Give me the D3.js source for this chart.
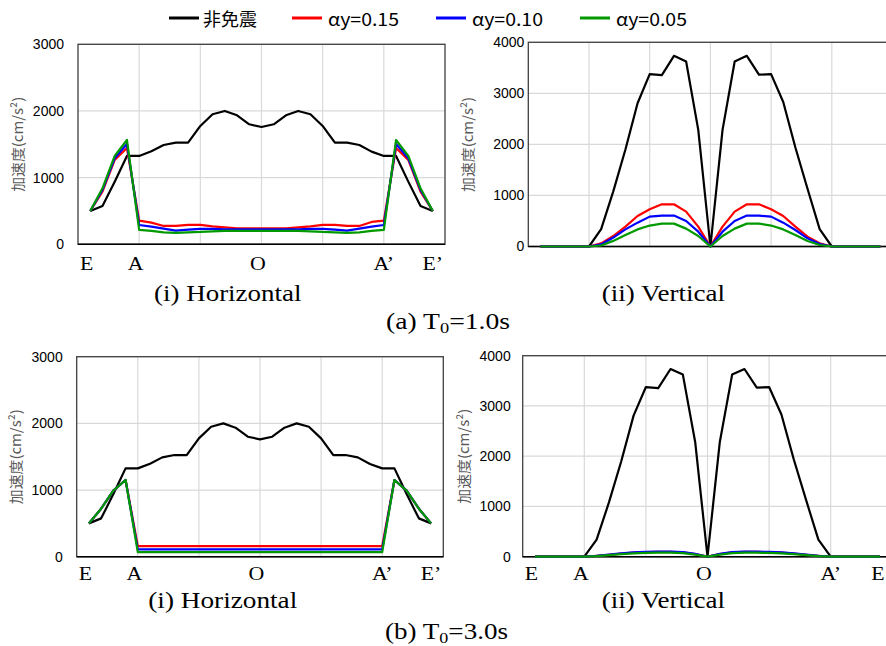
<!DOCTYPE html>
<html>
<head>
<meta charset="utf-8">
<script src="https://cdn.jsdelivr.net/npm/d3@7/dist/d3.min.js"></script>
<style>
  body { margin: 0; background: #fff; }
  svg { display: block; }
</style>
</head>
<body>
<div id="chart"></div>
<script>
// sampling points along the section E ... A ... O ... A' ... E'
const pointIdx = d3.range(1, 30);
const xTickIdx = [1, 5, 15, 25, 29];
const xTickLabels = ["E", "A", "O", "A’", "E’"];
const xTickLabelsCut = ["E", "A", "O", "A’", "E"];
const seriesNames = ["非免震", "αy=0.15", "αy=0.10", "αy=0.05"];
const seriesColors = ["#000000", "#ff0000", "#0000ff", "#009a00"];

// horizontal response (non-isolated is the same for both T0)
const hBlack = [500, 575, 940, 1325, 1325, 1395, 1490, 1525, 1525, 1775, 1950, 2000, 1935, 1800, 1760,
                1800, 1935, 2000, 1950, 1775, 1525, 1525, 1490, 1390, 1325, 1325, 940, 575, 500];
const hA15 = [500, 790, 1265, 1445, 355, 325, 275, 275, 290, 290, 270, 255, 240, 240, 240,
              240, 240, 255, 270, 290, 290, 275, 275, 335, 355, 1445, 1265, 790, 500];
const hA10 = [500, 815, 1290, 1505, 290, 265, 235, 205, 220, 230, 230, 225, 225, 225, 225,
              225, 225, 225, 230, 230, 220, 205, 235, 265, 290, 1505, 1290, 815, 500];
const hA05 = [500, 840, 1325, 1565, 215, 200, 180, 170, 180, 185, 195, 200, 200, 200, 200,
              200, 200, 200, 195, 185, 180, 170, 180, 200, 215, 1565, 1325, 840, 500];
const hB15 = [500, 720, 990, 1150, 160, 160, 160, 160, 160, 160, 160, 160, 160, 160, 160,
              160, 160, 160, 160, 160, 160, 160, 160, 160, 160, 1150, 990, 720, 500];
const hB10 = [500, 720, 990, 1150, 110, 110, 110, 110, 110, 110, 110, 110, 110, 110, 110,
              110, 110, 110, 110, 110, 110, 110, 110, 110, 110, 1150, 990, 720, 500];
const hB05 = [500, 720, 990, 1150, 70, 70, 70, 70, 70, 70, 70, 70, 70, 70, 70,
              70, 70, 70, 70, 70, 70, 70, 70, 70, 70, 1150, 990, 720, 500];

// vertical response
const vBlack = [0, 0, 0, 0, 0, 340, 1080, 1900, 2807, 3376, 3356, 3735, 3624, 2284, 0,
                2284, 3624, 3735, 3365, 3376, 2830, 1940, 1130, 340, 0, 0, 0, 0, 0];
const vA15 = [0, 0, 0, 0, 0, 60, 205, 390, 598, 729, 827, 827, 683, 389, 0,
              389, 683, 827, 827, 729, 598, 389, 193, 62, 0, 0, 0, 0, 0];
const vA10 = [0, 0, 0, 0, 0, 40, 175, 335, 467, 585, 605, 605, 500, 290, 0,
              290, 500, 605, 605, 585, 467, 323, 160, 49, 0, 0, 0, 0, 0];
const vA05 = [0, 0, 0, 0, 0, 20, 110, 225, 335, 410, 448, 448, 350, 205, 0,
              205, 350, 448, 448, 410, 335, 225, 108, 30, 0, 0, 0, 0, 0];
const vB15 = [0, 0, 0, 0, 0, 15, 35, 60, 80, 90, 95, 95, 85, 50, 0,
              50, 85, 95, 95, 90, 80, 60, 35, 15, 0, 0, 0, 0, 0];
const vB10 = [0, 0, 0, 0, 0, 15, 40, 65, 85, 95, 100, 100, 90, 55, 0,
              55, 90, 100, 100, 95, 85, 65, 40, 15, 0, 0, 0, 0, 0];
const vB05 = [0, 0, 0, 0, 0, 10, 30, 50, 65, 75, 80, 80, 70, 40, 0,
              40, 70, 80, 80, 75, 65, 50, 30, 10, 0, 0, 0, 0, 0];

const hTicks = [0, 1000, 2000, 3000];
const vTicks = [0, 1000, 2000, 3000, 4000];

const serif = "'Liberation Serif', 'Times New Roman', serif";
const sans = "'Liberation Sans', Arial, sans-serif";
const cjk = "'Noto Sans CJK JP', sans-serif";

const width = 886, height = 646;
const svg = d3.select("#chart").append("svg")
  .attr("width", width).attr("height", height);

const panels = [
  { box: [78, 445, 44.3, 244.3], ticks: hTicks, series: [hBlack, hA15, hA10, hA05],
    tickGap: 14, yTitleX: 17, labels: xTickLabels, labelY: 269.5,
    title: "(i) Horizontal", titleX: 154, titleW: 147.5, titleY: 300.5 },
  { box: [528.3, 892.5, 42.3, 246.5], ticks: vTicks, series: [vBlack, vA15, vA10, vA05],
    tickGap: 4, yTitleX: 466.5, labels: null,
    title: "(ii) Vertical", titleX: 601.7, titleW: 123.3, titleY: 300.5 },
  { box: [76.7, 443.3, 356.7, 556.7], ticks: hTicks, series: [hBlack, hB15, hB10, hB05],
    tickGap: 14, yTitleX: 15, labels: xTickLabels, labelY: 580,
    title: "(i) Horizontal", titleX: 148.3, titleW: 149, titleY: 608 },
  { box: [522.7, 892.3, 355.7, 556.7], ticks: vTicks, series: [vBlack, vB15, vB10, vB05],
    tickGap: 12, yTitleX: 462.7, labels: xTickLabelsCut, labelY: 580,
    title: "(ii) Vertical", titleX: 601.7, titleW: 123.3, titleY: 608 }
];

panels.forEach(p => {
  const [left, right, top, bottom] = p.box;
  const x = d3.scaleLinear().domain([0, 30]).range([left, right]);
  const y = d3.scaleLinear().domain([0, d3.max(p.ticks)]).range([bottom, top]);
  const g = svg.append("g");

  // grid
  g.selectAll(".hg").data(p.ticks.slice(1)).enter().append("line")
    .attr("x1", left).attr("x2", right)
    .attr("y1", d => y(d)).attr("y2", d => y(d))
    .attr("stroke", "#d9d9d9").attr("stroke-width", 1.2);
  g.selectAll(".vg").data([5, 10, 15, 20, 25]).enter().append("line")
    .attr("x1", d => x(d)).attr("x2", d => x(d))
    .attr("y1", top).attr("y2", bottom)
    .attr("stroke", "#d9d9d9").attr("stroke-width", 1.2);

  // frame
  g.append("rect").attr("x", left).attr("y", top)
    .attr("width", right - left).attr("height", bottom - top)
    .attr("fill", "none").attr("stroke", "#404040").attr("stroke-width", 1.3);

  // y axis labels
  const yAxis = d3.axisLeft(y).tickValues(p.ticks).tickFormat(d3.format("d"))
    .tickSize(0).tickPadding(p.tickGap);
  const ya = g.append("g").attr("transform", `translate(${left},0)`).call(yAxis);
  ya.select(".domain").remove();
  ya.selectAll("text").attr("font-family", sans)
    .attr("font-size", 14).attr("fill", "#000");

  // bottom axis line
  g.append("line").attr("x1", left).attr("x2", right)
    .attr("y1", bottom).attr("y2", bottom)
    .attr("stroke", "#000").attr("stroke-width", 1.5);

  // y title
  g.append("text")
    .attr("transform", `translate(${p.yTitleX},${(top + bottom) / 2}) rotate(-90)`)
    .attr("text-anchor", "middle").attr("dominant-baseline", "central")
    .attr("textLength", 95).attr("lengthAdjust", "spacingAndGlyphs")
    .attr("font-family", cjk).attr("font-size", 14)
    .attr("fill", "#595959").text("加速度(cm/s²)");

  // series
  const line = d3.line().x((d, i) => x(pointIdx[i])).y(d => y(d));
  p.series.forEach((s, k) => {
    g.append("path").datum(s).attr("d", line)
      .attr("fill", "none").attr("stroke", seriesColors[k])
      .attr("stroke-width", 2.2).attr("stroke-linejoin", "round");
  });

  // x labels
  if (p.labels) {
    g.selectAll(".xl").data(xTickIdx).enter().append("text")
      .attr("transform", (d, i) => {
        let px = x(d) + (i < 3 ? -3.5 : 0);
        if (px > width - 8) px = width - 8;
        return `translate(${px},${p.labelY}) scale(1.15,1)`;
      })
      .attr("text-anchor", "middle")
      .attr("font-family", serif).attr("font-size", 19)
      .text((d, i) => p.labels[i]);
  }

  // panel title
  g.append("text").attr("x", p.titleX).attr("y", p.titleY)
    .attr("textLength", p.titleW).attr("lengthAdjust", "spacingAndGlyphs")
    .attr("font-family", serif).attr("font-size", 22.5)
    .text(p.title);
});

// case captions
const captions = [
  { pre: "(a) T", val: "=1.0s", x: 386, y: 329, w: 124 },
  { pre: "(b) T", val: "=3.0s", x: 385, y: 639, w: 123 }
];
captions.forEach(c => {
  const t = svg.append("text").attr("x", c.x).attr("y", c.y)
    .attr("textLength", c.w).attr("lengthAdjust", "spacingAndGlyphs")
    .attr("font-family", serif).attr("font-size", 22.5);
  t.append("tspan").text(c.pre);
  t.append("tspan").attr("font-size", 15).attr("dy", 4).text("0");
  t.append("tspan").attr("dy", -4).text(c.val);
});

// legend
const legendPos = [
  { lx: 169, tx: 203, w: 54 },
  { lx: 292, tx: 328, w: 71 },
  { lx: 436, tx: 472, w: 71 },
  { lx: 580, tx: 616, w: 71 }
];
const lg = svg.append("g");
seriesNames.forEach((name, k) => {
  const lp = legendPos[k];
  lg.append("line").attr("x1", lp.lx).attr("x2", lp.lx + 30)
    .attr("y1", 18).attr("y2", 18)
    .attr("stroke", seriesColors[k]).attr("stroke-width", 3);
  lg.append("text").attr("x", lp.tx).attr("y", 18)
    .attr("dominant-baseline", "central")
    .attr("textLength", lp.w).attr("lengthAdjust", "spacingAndGlyphs")
    .attr("font-family", cjk).attr("font-size", 18)
    .text(name);
});
</script>
</body>
</html>
